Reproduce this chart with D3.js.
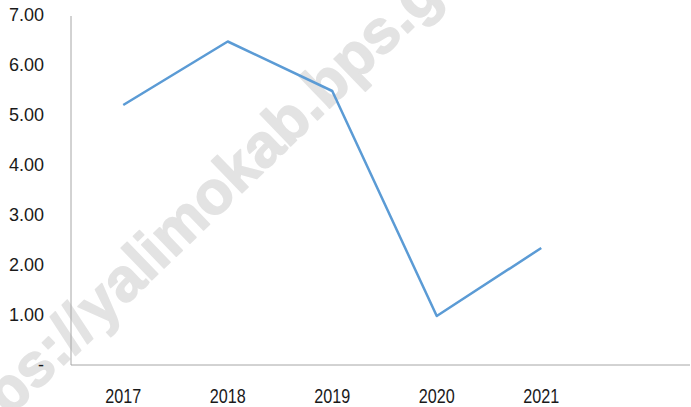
<!DOCTYPE html>
<html>
<head>
<meta charset="utf-8">
<script src="https://cdn.jsdelivr.net/npm/d3@7"></script>
<style>
  body { margin: 0; background: #fff; }
  text { font-family: "Liberation Sans", Arial, sans-serif; }
</style>
</head>
<body>
<svg id="chart" width="691" height="407"></svg>
<script>
// values
const years = ["2017", "2018", "2019", "2020", "2021"];
const values = [5.20, 6.47, 5.48, 0.98, 2.34];
const yTicks = [0, 1, 2, 3, 4, 5, 6, 7];

const svg = d3.select("#chart");

const x = d3.scaleBand().domain(years).range([71, 593.5]);
const y = d3.scaleLinear().domain([0, 7]).range([365, 15]);

// watermark
const wm = svg.append("g")
  .attr("transform", "translate(100,330) rotate(-44)")
  .attr("fill", "#e3e3e3")
  .attr("stroke", "#e3e3e3")
  .attr("stroke-width", 1.5)
  .attr("stroke-linejoin", "round")
  .style("font-size", "61px")
  .style("font-weight", "bold");
wm.append("text").attr("text-anchor", "end").attr("x", -2).text("https://");
wm.append("text").attr("text-anchor", "start").text("yalimokab.bps.go.id");

// y labels
svg.append("g").selectAll("text")
  .data(yTicks)
  .join("text")
  .attr("x", 44)
  .attr("y", d => y(d))
  .attr("dy", "0.35em")
  .attr("text-anchor", "end")
  .attr("fill", "#1a1a1a")
  .style("font-size", "18px")
  .text(d => d === 0 ? "-" : d.toFixed(2));

// axes lines
svg.append("line")
  .attr("x1", 71).attr("x2", 71)
  .attr("y1", y(7) + 1).attr("y2", y(0))
  .attr("stroke", "#a6a6a6").attr("stroke-width", 1);
svg.append("line")
  .attr("x1", 71).attr("x2", 690)
  .attr("y1", y(0)).attr("y2", y(0))
  .attr("stroke", "#a6a6a6").attr("stroke-width", 1);

// x labels
svg.append("g").selectAll("text")
  .data(years)
  .join("text")
  .attr("x", d => x(d) + x.bandwidth() / 2)
  .attr("y", 403)
  .attr("text-anchor", "middle")
  .attr("fill", "#1a1a1a")
  .attr("textLength", 36)
  .attr("lengthAdjust", "spacingAndGlyphs")
  .style("font-size", "20px")
  .text(d => d);

// line
const line = d3.line()
  .x((d, i) => x(years[i]) + x.bandwidth() / 2)
  .y(d => y(d));

svg.append("path")
  .datum(values)
  .attr("d", line)
  .attr("fill", "none")
  .attr("stroke", "#5b9bd5")
  .attr("stroke-width", 2.5)
  .attr("stroke-linejoin", "round");
</script>
</body>
</html>
